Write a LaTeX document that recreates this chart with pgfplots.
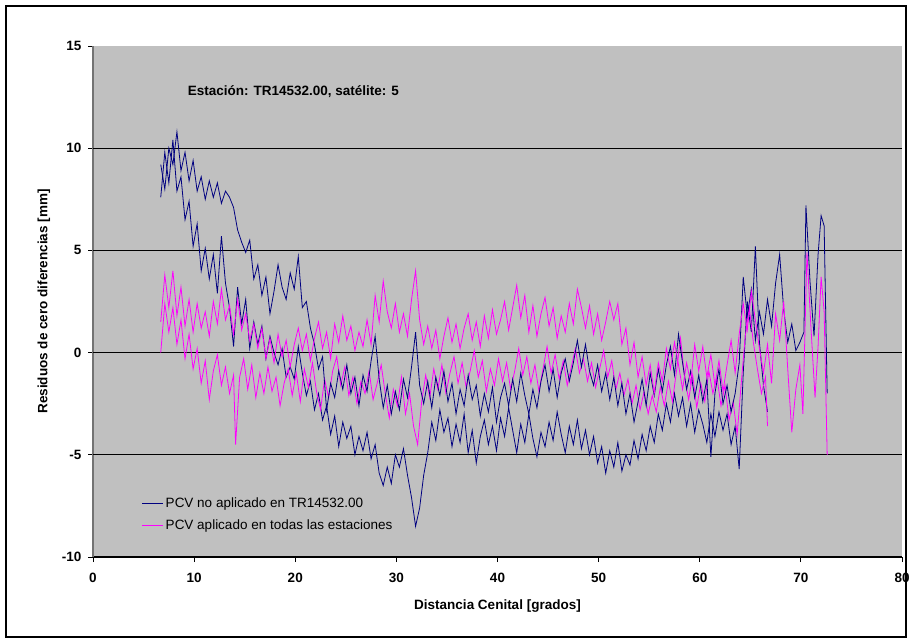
\documentclass[border=0pt]{standalone}
\usepackage{fontspec}
\setmainfont{Liberation Sans}
\usepackage{pgfplots}
\pgfplotsset{compat=1.18}
\definecolor{plotgray}{HTML}{C0C0C0}
\definecolor{navyc}{HTML}{000080}
\definecolor{magc}{HTML}{FF00FF}
\newcommand{\ff}{\fontsize{13.5}{15}\selectfont}
\begin{document}
\begin{tikzpicture}[x=1pt,y=1pt]
\useasboundingbox (0,0) rectangle (909,643);
\fill[white] (0,0) rectangle (909,643);
\draw[line width=2pt] (6,6) rectangle (906,637);
\begin{axis}[
  at={(93pt,86pt)}, anchor=south west,
  scale only axis, width=809pt, height=511pt,
  xmin=0, xmax=80, ymin=-10, ymax=15,
  xtick={0,10,...,80}, ytick={-10,-5,...,15},
  extra y ticks={-5,0,5,10}, extra y tick labels={},
  extra y tick style={ymajorgrids=true, major tick length=0pt},
  grid style={black, line width=1pt},
  axis x line=bottom, axis y line=left,
  x axis line style={-, black, line width=1.2pt},
  y axis line style={-, black!55, line width=1.6pt},
  tick align=outside, major tick length=5pt,
  tick style={black, line width=0.8pt},
  axis background/.style={fill=plotgray},
  /pgf/number format/assume math mode=true,
  tick label style={font=\ff\bfseries},
  xticklabel style={yshift=-8pt},
  yticklabel style={xshift=-3pt},
  xlabel={Distancia Cenital [grados]},
  ylabel={Residuos de cero diferencias [mm]},
  label style={font=\ff\bfseries},
  xlabel style={yshift=-10pt},
  ylabel style={yshift=0pt},
  legend style={draw=none, fill=none, at={(0.0605,0.1196)}, anchor=north west,
    font=\ff, row sep=6.5pt, inner sep=0pt, outer sep=0pt},
  legend cell align=left,
  legend image code/.code={\draw[#1] (0pt,0pt) -- (21pt,0pt);},
  every axis plot/.append style={line width=0.8pt},
  clip=true,
]
\addplot[navyc] table {
x y
6.7 7.6
7.1 9.8
7.5 8.3
7.9 10.4
8.3 7.9
8.7 8.6
9.1 6.5
9.5 7.4
9.9 5.2
10.3 6.3
10.7 4.0
11.1 5.1
11.5 3.6
11.9 4.8
12.3 2.9
12.7 5.7
13.1 3.4
13.5 2.2
13.9 0.3
14.3 3.2
14.7 1.4
15.1 2.6
15.5 0.2
15.9 1.5
16.3 0.4
16.7 1.3
17.1 -0.3
17.5 0.8
17.9 0.0
18.3 -0.6
18.7 0.2
19.1 -1.2
19.5 -0.7
19.9 -1.3
20.3 0.3
20.7 -1.0
21.1 -2.1
21.5 -1.4
21.9 -2.8
22.3 -2.0
22.7 -3.3
23.1 -2.6
23.5 -4.0
23.9 -3.1
24.3 -4.6
24.7 -3.4
25.1 -4.2
25.5 -3.6
25.9 -5.0
26.3 -4.1
26.7 -4.8
27.1 -3.9
27.5 -5.2
27.9 -4.5
28.3 -5.9
28.7 -6.5
29.1 -5.6
29.5 -6.4
29.9 -5.0
30.3 -5.6
30.7 -4.7
31.1 -6.0
31.5 -7.1
31.9 -8.5
32.3 -7.6
32.7 -6.0
33.1 -4.9
33.5 -3.4
33.9 -4.3
34.3 -2.8
34.7 -3.9
35.1 -3.2
35.5 -4.6
35.9 -3.5
36.3 -4.4
36.7 -3.0
37.1 -4.9
37.5 -3.8
37.9 -5.4
38.3 -4.1
38.7 -3.3
39.1 -4.5
39.5 -3.6
39.9 -4.8
40.3 -3.2
40.7 -4.1
41.1 -2.7
41.5 -3.8
41.9 -4.9
42.3 -3.5
42.7 -4.4
43.1 -3.0
43.5 -4.2
43.9 -5.1
44.3 -3.9
44.7 -4.6
45.1 -3.4
45.5 -4.3
45.9 -2.9
46.3 -4.0
46.7 -4.9
47.1 -3.6
47.5 -4.5
47.9 -3.3
48.3 -4.7
48.7 -3.8
49.1 -5.0
49.5 -4.1
49.9 -5.4
50.3 -4.6
50.7 -5.9
51.1 -4.8
51.5 -5.6
51.9 -4.4
52.3 -5.8
52.7 -5.0
53.1 -5.5
53.5 -4.3
53.9 -5.2
54.3 -4.0
54.7 -4.8
55.1 -3.6
55.5 -4.4
55.9 -3.0
56.3 -3.8
56.7 -2.5
57.1 -3.4
57.5 -2.0
57.9 -3.1
58.3 -2.2
58.7 -3.6
59.1 -2.5
59.5 -3.9
59.9 -2.8
60.3 -3.5
60.7 -4.4
61.1 -3.0
61.5 -4.1
61.9 -2.9
62.3 -3.8
62.7 -3.0
63.1 -4.5
63.5 -3.6
63.9 -5.7
64.3 -1.0
64.7 2.5
65.1 1.0
65.5 5.2
65.9 0.5
66.3 -1.6
66.7 -2.9
};
\addlegendentry{PCV no aplicado en TR14532.00}
\addplot[magc] table {
x y
6.7 0.0
7.1 2.4
7.5 1.0
7.9 2.2
8.3 0.4
8.7 1.6
9.1 -0.3
9.5 0.9
9.9 -0.8
10.3 0.2
10.7 -1.5
11.1 -0.4
11.5 -2.3
11.9 -0.9
12.3 -0.1
12.7 -1.6
13.1 -0.7
13.5 -2.0
13.9 -1.1
14.1 -4.5
14.5 -1.2
14.9 -0.3
15.3 -1.8
15.7 -0.6
16.1 -2.2
16.5 -1.0
16.9 -2.0
17.3 -0.7
17.7 -1.9
18.1 -1.2
18.5 -2.6
18.9 -1.5
19.3 -0.8
19.7 -2.1
20.1 -1.0
20.5 -2.4
20.9 -0.8
21.3 -1.7
21.7 -0.5
22.1 -1.9
22.5 -2.8
22.9 -1.3
23.3 -2.2
23.7 -0.9
24.1 -0.2
24.5 -1.6
24.9 -0.7
25.3 -2.1
25.7 -1.2
26.1 -2.5
26.5 -1.4
26.9 -2.0
27.3 -0.9
27.7 -2.3
28.1 -1.5
28.5 -0.6
28.9 -2.0
29.3 -3.2
29.7 -1.8
30.1 -2.6
30.5 -1.2
30.9 -3.0
31.3 -2.0
31.7 -3.6
32.1 -4.5
32.5 -2.4
32.9 -1.1
33.3 -2.2
33.7 -0.8
34.1 -1.8
34.5 -0.6
34.9 -2.0
35.3 -1.0
35.7 -0.2
36.1 -1.5
36.5 -0.5
36.9 -1.7
37.3 -0.9
37.7 0.1
38.1 -1.2
38.5 -0.4
38.9 -1.9
39.3 -0.8
39.7 -1.6
40.1 -0.3
40.5 -1.4
40.9 -0.5
41.3 -1.8
41.7 -0.9
42.1 0.2
42.5 -1.1
42.9 -0.2
43.3 -1.5
43.7 -0.6
44.1 -1.9
44.5 -0.8
44.9 0.3
45.3 -1.0
45.7 -0.1
46.1 -1.3
46.5 -0.4
46.9 -1.6
47.3 -0.7
47.7 0.2
48.1 -1.0
48.5 -0.3
48.9 -1.4
49.3 -0.5
49.7 -1.7
50.1 -0.8
50.5 0.1
50.9 -1.2
51.3 -0.4
51.7 -1.8
52.1 -1.0
52.5 -2.1
52.9 -1.3
53.3 -2.5
53.7 -1.6
54.1 -2.8
54.5 -1.9
54.9 -3.0
55.3 -2.1
55.7 -2.9
56.1 -1.7
56.5 -2.6
56.9 -1.4
57.3 -2.4
57.7 -0.9
58.1 0.7
58.5 -1.2
58.9 -2.3
59.3 -1.1
59.7 -2.7
60.1 -1.5
60.5 -2.4
60.9 -0.9
61.3 -2.0
61.7 -1.2
62.1 -2.6
62.5 -1.6
62.9 -3.3
63.3 -2.4
63.7 -4.0
64.1 -1.5
64.5 0.8
64.9 2.2
65.3 0.5
65.7 -0.8
66.1 -2.0
66.5 -1.2
66.7 -3.6
};
\addlegendentry{PCV aplicado en todas las estaciones}
\addplot[navyc, forget plot] table {
x y
6.7 9.2
7.1 8.0
7.5 10.0
7.9 9.2
8.3 10.8
8.7 8.9
9.1 9.8
9.5 8.4
9.9 9.4
10.3 7.9
10.7 8.6
11.1 7.5
11.5 8.4
11.9 7.6
12.3 8.3
12.7 7.3
13.1 7.9
13.5 7.6
13.9 7.1
14.3 6.0
14.7 5.4
15.1 4.9
15.5 5.5
15.9 3.6
16.3 4.3
16.7 2.8
17.1 3.7
17.5 1.9
17.9 3.0
18.3 4.3
18.7 3.2
19.1 2.6
19.5 3.9
19.9 3.1
20.3 4.7
20.7 2.2
21.1 2.5
21.5 1.2
21.9 0.4
22.3 -0.8
22.7 -0.2
23.1 -2.8
23.5 -1.5
23.9 -2.2
24.3 -0.9
24.7 -1.8
25.1 -0.6
25.5 -2.0
25.9 -1.2
26.3 -2.6
26.7 -1.1
27.1 -1.9
27.5 -0.4
27.9 0.8
28.3 -1.3
28.7 -2.7
29.1 -1.6
29.5 -3.0
29.9 -1.9
30.3 -2.8
30.7 -1.3
31.1 -2.2
31.5 -0.7
31.9 1.0
32.3 -1.6
32.7 -2.5
33.1 -1.4
33.5 -2.7
33.9 -1.2
34.3 -2.1
34.7 -0.9
35.1 -2.4
35.5 -1.5
35.9 -3.0
36.3 -1.8
36.7 -2.6
37.1 -1.1
37.5 -2.3
37.9 -1.6
38.3 -3.1
38.7 -2.0
39.1 -2.9
39.5 -1.7
39.9 -3.4
40.3 -2.2
40.7 -1.5
41.1 -2.6
41.5 -1.3
41.9 -2.4
42.3 -1.0
42.7 -2.1
43.1 -3.0
43.5 -1.8
43.9 -2.7
44.3 -1.4
44.7 -0.6
45.1 -1.9
45.5 -0.8
45.9 -2.2
46.3 -1.0
46.7 -0.3
47.1 -1.4
47.5 -0.5
47.9 0.6
48.3 -0.7
48.7 0.4
49.1 -0.9
49.5 -1.6
49.9 -0.6
50.3 -1.9
50.7 -1.0
51.1 -2.3
51.5 -1.2
51.9 -2.6
52.3 -1.5
52.7 -3.0
53.1 -2.0
53.5 -3.4
53.9 -2.4
54.3 -1.3
54.7 -2.6
55.1 -1.0
55.5 -2.1
55.9 -0.8
56.3 -1.9
56.7 -0.6
57.1 0.3
57.5 -1.1
57.9 0.9
58.3 -0.5
58.7 -1.8
59.1 -0.9
59.5 -2.2
59.9 -1.1
60.3 -2.4
60.7 -1.3
61.1 -5.1
61.5 -2.0
61.9 -0.8
62.3 -2.5
62.7 -1.6
63.1 -2.9
63.5 -2.0
63.9 -0.5
64.3 3.7
64.7 1.8
65.1 3.1
65.5 0.6
65.9 2.0
66.3 0.9
66.7 2.6
67.1 1.3
67.5 3.4
67.9 4.8
68.3 2.1
68.7 0.5
69.1 1.4
69.5 0.1
69.9 0.5
70.3 1.0
70.5 7.2
70.9 3.5
71.3 0.8
71.7 4.8
72.0 6.7
72.3 6.2
72.6 -2.0
};
\addplot[magc, forget plot] table {
x y
6.7 1.5
7.1 3.8
7.5 2.2
7.9 4.0
8.3 1.8
8.7 3.2
9.1 1.3
9.5 2.6
9.9 1.0
10.3 2.4
10.7 1.2
11.1 2.0
11.5 0.8
11.9 2.5
12.3 1.4
12.7 3.1
13.1 1.6
13.5 2.3
13.9 0.9
14.3 2.6
14.7 1.1
15.1 1.9
15.5 0.6
15.9 1.4
16.3 0.2
16.7 1.2
17.1 -0.3
17.5 0.7
17.9 -0.5
18.3 0.9
18.7 -0.2
19.1 0.6
19.5 -0.7
19.9 0.4
20.3 1.2
20.7 0.1
21.1 0.9
21.5 -0.4
21.9 0.7
22.3 1.5
22.7 0.2
23.1 1.0
23.5 -0.3
23.9 1.4
24.3 0.5
24.7 1.8
25.1 0.6
25.5 1.3
25.9 0.1
26.3 1.0
26.7 0.3
27.1 1.6
27.5 0.4
27.9 2.8
28.3 1.5
28.7 3.5
29.1 2.0
29.5 1.2
29.9 2.4
30.3 1.0
30.7 1.9
31.1 0.8
31.5 2.6
31.9 4.0
32.3 1.6
32.7 0.4
33.1 1.3
33.5 0.2
33.9 1.1
34.3 -0.3
34.7 0.8
35.1 1.7
35.5 0.5
35.9 1.4
36.3 0.2
36.7 1.2
37.1 1.9
37.5 0.6
37.9 1.5
38.3 0.3
38.7 1.8
39.1 0.7
39.5 2.1
39.9 0.9
40.3 1.6
40.7 2.5
41.1 1.1
41.5 2.2
41.9 3.3
42.3 1.7
42.7 2.8
43.1 1.0
43.5 2.3
43.9 0.8
44.3 1.9
44.7 2.7
45.1 1.3
45.5 2.2
45.9 0.7
46.3 1.8
46.7 1.0
47.1 2.4
47.5 1.4
47.9 3.1
48.3 2.2
48.7 1.2
49.1 2.3
49.5 0.9
49.9 1.9
50.3 0.6
50.7 1.5
51.1 2.5
51.5 1.6
51.9 2.4
52.3 0.4
52.7 1.2
53.1 -0.6
53.5 0.5
53.9 -1.2
54.3 -0.2
54.7 -1.6
55.1 -0.6
55.5 -2.0
55.9 -0.5
56.3 -1.4
56.7 0.2
57.1 -0.8
57.5 0.5
57.9 -0.6
58.3 -1.8
58.7 -0.5
59.1 -1.5
59.5 0.4
59.9 -0.9
60.3 0.3
60.7 -1.2
61.1 -0.1
61.5 -1.6
61.9 -0.4
62.3 -1.9
62.7 -0.6
63.1 0.6
63.5 -1.0
63.9 0.9
64.3 2.4
64.7 1.1
65.1 3.0
65.5 1.6
65.9 0.2
66.3 -1.0
66.7 0.4
67.1 -1.5
67.5 1.9
67.9 0.6
68.3 2.5
68.7 -0.8
69.1 -3.9
69.5 -1.8
69.9 -0.6
70.2 -3.0
70.6 4.9
71.0 1.2
71.4 -2.2
71.7 0.3
72.0 3.7
72.3 2.0
72.6 -5.0
};
\node[anchor=west, inner sep=0pt, font=\ff\bfseries] at (axis cs:9.35,12.75) {Estación: TR14532.00, satélite: 5};
\end{axis}
\end{tikzpicture}
\end{document}
